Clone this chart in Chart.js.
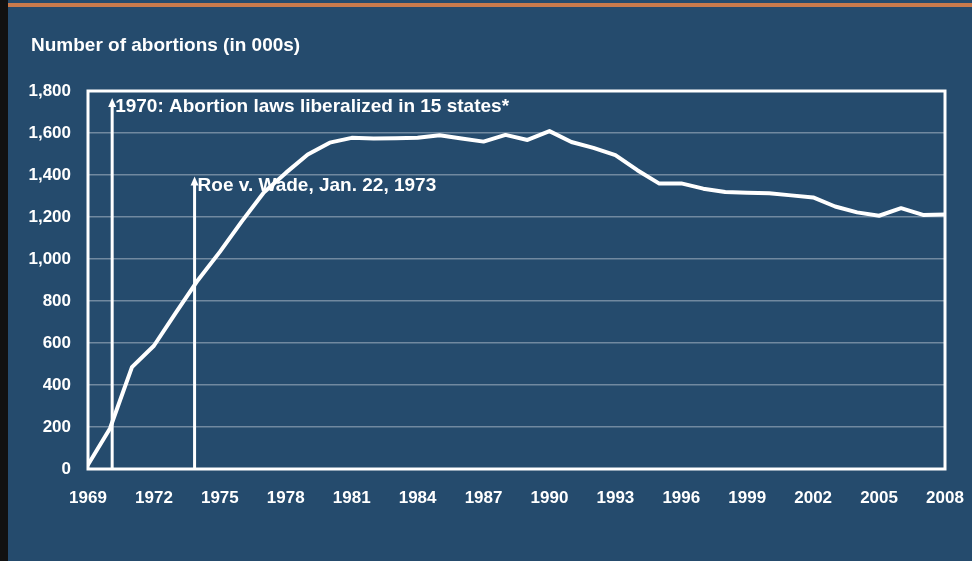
<!DOCTYPE html>
<html>
<head>
<meta charset="utf-8">
<script src="https://cdn.jsdelivr.net/npm/chart.js@4.4.1/dist/chart.umd.min.js"></script>
<style>
  html, body { margin: 0; padding: 0; background: #254b6d; }
  #wrap { width: 972px; height: 561px; }
</style>
</head>
<body>
<div id="wrap"><canvas id="myLineChart" width="972" height="561"></canvas></div>
<script>
// abortions per year, in thousands
const years = [1969, 1970, 1971, 1972, 1973, 1974, 1975, 1976, 1977, 1978, 1979,
  1980, 1981, 1982, 1983, 1984, 1985, 1986, 1987, 1988, 1989, 1990, 1991, 1992,
  1993, 1994, 1995, 1996, 1997, 1998, 1999, 2000, 2001, 2002, 2003, 2004, 2005,
  2006, 2007, 2008];
const abortions = [20, 193, 485, 587, 745, 899, 1034, 1179, 1317, 1410, 1498,
  1554, 1577, 1574, 1575, 1577, 1589, 1574, 1559, 1591, 1567, 1609, 1557, 1529,
  1495, 1423, 1359, 1360, 1335, 1319, 1315, 1313, 1303, 1293, 1250, 1222, 1206,
  1242, 1210, 1212];
const xTicks = [1969, 1972, 1975, 1978, 1981, 1984, 1987, 1990, 1993, 1996, 1999, 2002, 2005, 2008];
const yTicks = [0, 200, 400, 600, 800, 1000, 1200, 1400, 1600, 1800];

// annotation arrows: [year position, arrow top value, label]
const notes = [
  [1970.1, 1767, '1970: Abortion laws liberalized in 15 states*'],
  [1973.85, 1393, 'Roe v. Wade, Jan. 22, 1973']
];

const font = '"Liberation Sans", Arial, sans-serif';

const frame = {
  id: 'frame',
  beforeDraw(chart) {
    const ctx = chart.ctx;
    ctx.save();
    ctx.fillStyle = '#254b6d';
    ctx.fillRect(0, 0, chart.width, chart.height);
    ctx.fillStyle = '#111';
    ctx.fillRect(0, 0, 8, chart.height);
    ctx.fillStyle = '#c97a4c';
    ctx.fillRect(8, 3, chart.width - 8, 4);
    ctx.fillStyle = '#ffffff';
    ctx.font = 'bold 19px ' + font;
    ctx.textBaseline = 'middle';
    ctx.fillText('Number of abortions (in 000s)', 31, 46);
    ctx.restore();
  },
  beforeDatasetsDraw(chart) {
    const ctx = chart.ctx;
    const a = chart.chartArea;
    const x = chart.scales.x, y = chart.scales.y;
    ctx.save();
    ctx.strokeStyle = '#ffffff';
    ctx.lineWidth = 3;
    ctx.strokeRect(a.left, a.top, a.right - a.left, a.bottom - a.top);
    ctx.fillStyle = '#ffffff';
    ctx.font = 'bold 19px ' + font;
    ctx.textBaseline = 'middle';
    notes.forEach(n => {
      const px = x.getPixelForValue(n[0]);
      const top = y.getPixelForValue(n[1]);
      ctx.lineWidth = 3;
      ctx.beginPath();
      ctx.moveTo(px, a.bottom);
      ctx.lineTo(px, top + 6);
      ctx.stroke();
      ctx.beginPath();
      ctx.moveTo(px, top);
      ctx.lineTo(px - 4, top + 9);
      ctx.lineTo(px + 4, top + 9);
      ctx.closePath();
      ctx.fill();
      ctx.fillText(n[2], px + 3, top + 9);
    });
    ctx.restore();
  }
};

const ctx = document.getElementById('myLineChart').getContext('2d');

const myLineChart = new Chart(ctx, {
  type: 'line',
  data: {
    labels: years,
    datasets: [{
      data: years.map((yr, i) => ({x: yr, y: abortions[i]})),
      borderColor: '#ffffff',
      borderWidth: 4,
      pointRadius: 0,
      tension: 0,
      borderJoinStyle: 'round',
      borderCapStyle: 'round'
    }]
  },
  options: {
    responsive: false,
    animation: false,
    layout: { padding: { left: 0, top: 91, right: 27, bottom: 0 } },
    scales: {
      x: {
        type: 'linear',
        min: 1969,
        max: 2008,
        afterBuildTicks: s => { s.ticks = xTicks.map(v => ({value: v})); },
        afterFit: s => { s.height = 92; s.paddingLeft = 0; s.paddingRight = 0; },
        grid: { display: false, drawTicks: false },
        border: { display: false },
        ticks: {
          color: '#ffffff',
          font: { family: font, size: 17, weight: 'bold' },
          padding: 19,
          maxRotation: 0,
          autoSkip: false,
          callback: v => String(v)
        }
      },
      y: {
        min: 0,
        max: 1800,
        afterBuildTicks: s => { s.ticks = yTicks.map(v => ({value: v})); },
        afterFit: s => { s.width = 88; s.paddingTop = 0; s.paddingBottom = 0; },
        grid: { color: 'rgba(255,255,255,0.35)', lineWidth: 1.5, drawTicks: false },
        border: { display: false },
        ticks: {
          color: '#ffffff',
          font: { family: font, size: 17, weight: 'bold' },
          padding: 17,
          callback: v => v.toLocaleString('en-US')
        }
      }
    },
    plugins: {
      legend: { display: false },
      tooltip: { enabled: false }
    }
  },
  plugins: [frame]
});
</script>
</body>
</html>
